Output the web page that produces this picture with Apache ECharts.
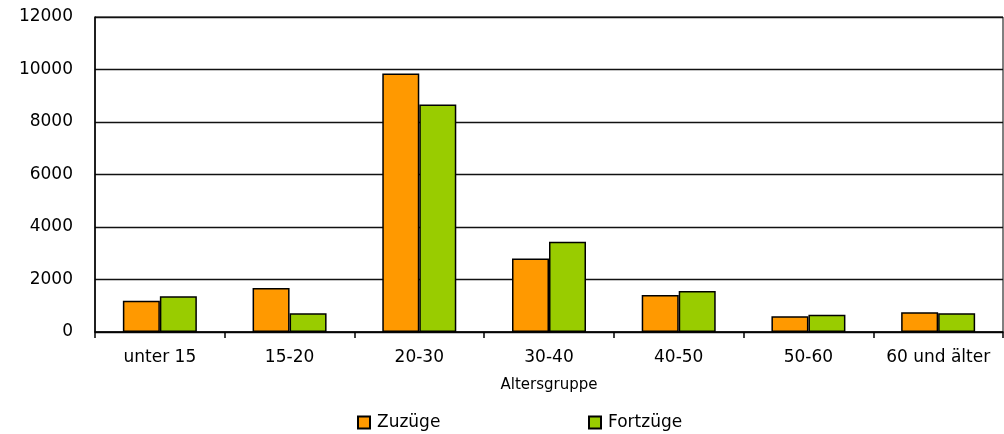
<!DOCTYPE html>
<html>
<head>
<meta charset="utf-8">
<script src="https://cdn.jsdelivr.net/npm/echarts@6/dist/echarts.min.js"></script>
<style>
  html, body { margin: 0; padding: 0; background: #fff; }
  #chart { width: 1004px; height: 434px; }
</style>
</head>
<body>
<div id="chart"></div>
<script>
// Daten
var categories = ["unter 15", "15-20", "20-30", "30-40", "40-50", "50-60", "60 und älter"];
var zuzuege = [1190, 1680, 9850, 2800, 1410, 600, 750];
var fortzuege = [1360, 710, 8670, 3440, 1560, 660, 710];
var seriesNames = ["Zuzüge", "Fortzüge"];

var font = "DejaVu Sans";

// eine Legende pro Reihe, damit die Abstände passen
function legendAt(name, left) {
    return {
        data: [name],
        left: left, top: 409,
        itemWidth: 12, itemHeight: 12, itemGap: 0,
        icon: "rect",
        textStyle: { fontFamily: font, fontSize: 17, color: "#000", padding: [0, 0, 0, 2] }
    };
}

var option = {
    animation: false,
    backgroundColor: "#fff",
    grid: {
        left: 95, right: 1, top: 17, bottom: 102,
        show: true, borderColor: "#000", borderWidth: 1
    },
    legend: [legendAt(seriesNames[0], 352), legendAt(seriesNames[1], 583)],
    xAxis: {
        type: "category",
        data: categories,
        name: "Altersgruppe",
        nameLocation: "middle",
        nameGap: 46,
        nameTextStyle: { fontFamily: font, fontSize: 15, color: "#000" },
        axisLine: { lineStyle: { color: "#000", width: 1.5 } },
        axisTick: { show: true, interval: 0, length: 6, lineStyle: { color: "#000", width: 1.5 } },
        axisLabel: { interval: 0, fontFamily: font, fontSize: 17, color: "#000", margin: 17 }
    },
    yAxis: {
        type: "value",
        min: 0, max: 12000, interval: 2000,
        axisLine: { show: true, lineStyle: { color: "#000", width: 1.5 } },
        axisTick: { show: false },
        splitLine: { lineStyle: { color: "#111", width: 1.3 } },
        axisLabel: {
            fontFamily: font, fontSize: 17, color: "#000", margin: 22,
            formatter: function (v) { return String(v); }
        }
    },
    series: [
        {
            name: seriesNames[0], type: "bar", data: zuzuege,
            barWidth: 37, barGap: "0%",
            itemStyle: { color: "#FF9900", borderColor: "#000", borderWidth: 1.5 }
        },
        {
            name: seriesNames[1], type: "bar", data: fortzuege,
            barWidth: 37, barGap: "0%",
            itemStyle: { color: "#99CC00", borderColor: "#000", borderWidth: 1.5 }
        }
    ]
};

var myChart = echarts.init(document.getElementById("chart"));
myChart.setOption(option);
</script>
</body>
</html>
